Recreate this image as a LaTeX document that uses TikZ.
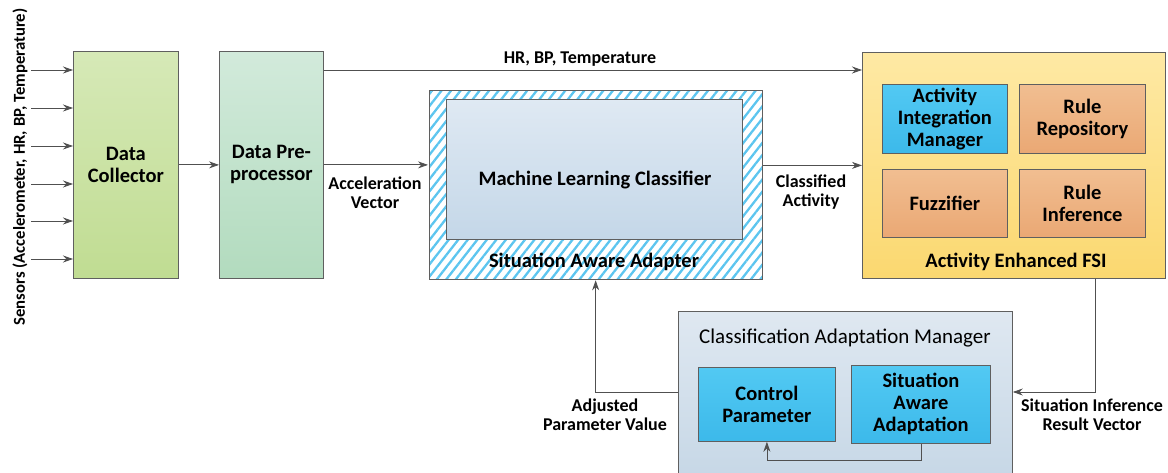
\documentclass[tikz,border=0pt]{standalone}
\usepackage{fontspec}
\setmainfont{Carlito}
\usetikzlibrary{arrows.meta,patterns.meta,positioning}

\definecolor{boxgray}{HTML}{5F5F5F}
\definecolor{linegray}{HTML}{505050}
\definecolor{hatchblue}{HTML}{5CC5EF}

\newcommand{\bigfont}{\fontsize{20.5}{22}\selectfont\bfseries}
\newcommand{\lblfont}{\fontsize{18}{19}\selectfont\bfseries}

\begin{document}
\begin{tikzpicture}[x=1pt, y=-1pt, line width=0.8pt,
    >={Stealth[length=10pt,width=7pt]},
    block/.style = {draw=boxgray, anchor=north west, align=center, font=\bigfont, inner sep=0pt},
    bluebox/.style = {block, top color={rgb,255:red,82;green,201;blue,243}, bottom color={rgb,255:red,60;green,185;blue,234}},
    rulebox/.style = {block, top color={rgb,255:red,241;green,190;blue,145}, bottom color={rgb,255:red,234;green,168;blue,116}},
    lbl/.style = {align=center, font=\lblfont},
    conn/.style = {draw=linegray, ->}]

    \useasboundingbox (0,0) rectangle (1168,473);
    \clip (0,0) rectangle (1168,473);

    % first two stages
    \node[block, minimum width=105, minimum height=227,
          top color={rgb,255:red,214;green,233;blue,183}, bottom color={rgb,255:red,192;green,220;blue,146}]
          (dc) at (73,51) {Data\\Collector};
    \node[block, minimum width=104, minimum height=227,
          top color={rgb,255:red,210;green,234;blue,219}, bottom color={rgb,255:red,178;green,219;blue,190}]
          (pre) at (219,51) {Data Pre-\\processor};

    % situation aware adapter
    \node[draw=boxgray, anchor=north west, minimum width=333, minimum height=189, inner sep=0pt,
          pattern={Lines[angle=52,distance=7.5pt,line width=2.3pt]}, pattern color=hatchblue]
          (saa) at (428,89) {};
    \node[block, minimum width=296, minimum height=140,
          top color={rgb,255:red,223;green,233;blue,243}, bottom color={rgb,255:red,196;green,215;blue,232}]
          (mlc) at (446,99) {};
    \node[font=\bigfont] (mlclbl) at (595,180) {Machine Learning Classifier};
    \node[font=\bigfont] (saalbl) at (594,262) {Situation Aware Adapter};

    % fuzzy situation inference
    \node[block, minimum width=303, minimum height=226,
          top color={rgb,255:red,254;green,233;blue,164}, bottom color={rgb,255:red,251;green,216;blue,112}]
          (fsi) at (862,52) {};
    \node[bluebox, minimum width=125, minimum height=69] (aim) at (882,84) {Activity\\Integration\\Manager};
    \node[rulebox, minimum width=126, minimum height=69] (rr) at (1019,84) {Rule\\Repository};
    \node[rulebox, minimum width=125, minimum height=68] (fz) at (882,169) {Fuzzifier};
    \node[rulebox, minimum width=126, minimum height=68] (ri) at (1019,169) {Rule\\Inference};
    \node[font=\bigfont] (fsilbl) at (1016,262) {Activity Enhanced FSI};

    % adaptation manager
    \node[block, minimum width=334, minimum height=170,
          top color={rgb,255:red,223;green,232;blue,241}, bottom color={rgb,255:red,198;green,215;blue,230}]
          (cam) at (678,311) {};
    \node[font=\fontsize{21}{23}\selectfont] (camlbl) at (845,338) {Classification Adaptation Manager};
    \node[bluebox, minimum width=137, minimum height=74] (cp) at (698,367) {Control\\Parameter};
    \node[bluebox, minimum width=139, minimum height=78] (sad) at (851,365) {Situation\\Aware\\Adaptation};

    % sensor inputs
    \node[lbl, font=\fontsize{16.7}{19}\selectfont\bfseries, rotate=90] (sens) at (20,167) {Sensors (Accelerometer, HR, BP, Temperature)};
    \foreach \y [count=\i] in {70,108,146,184,221,259} {
        \coordinate (s\i) at (31,\y);
        \draw[conn] (s\i) -- (s\i -| dc.west);
    }

    % data flow
    \coordinate (hr) at (0,70);
    \coordinate (fb) at (0,392);
    \draw[conn] (dc) -- (pre);
    \draw[conn] (pre.east |- hr) -- (fsi.west |- hr);
    \draw[conn] (pre.east) -- (pre.east -| saa.west);
    \draw[conn] (saa.east |- fsi) -- (fsi);

    % feedback loop
    \draw[conn] ([xshift=-70pt]fsi.south east) |- (cam.east |- fb);
    \draw[conn] (cam.west |- fb) -| (saa.south);
    \draw[conn] (sad.south) -- ++(0,17) -| (cp.south);

    % labels
    \node[lbl] (hrlbl) at (580,59) {HR, BP, Temperature};
    \node[lbl] (acclbl) at (375,192.5) {Acceleration\\Vector};
    \node[lbl] (clslbl) at (811,192.5) {Classified\\Activity};
    \node[lbl] (adjlbl) at (605,414.5) {Adjusted\\Parameter Value};
    \node[lbl] (reslbl) at (1092,414.5) {Situation Inference\\Result Vector};
\end{tikzpicture}
\end{document}
